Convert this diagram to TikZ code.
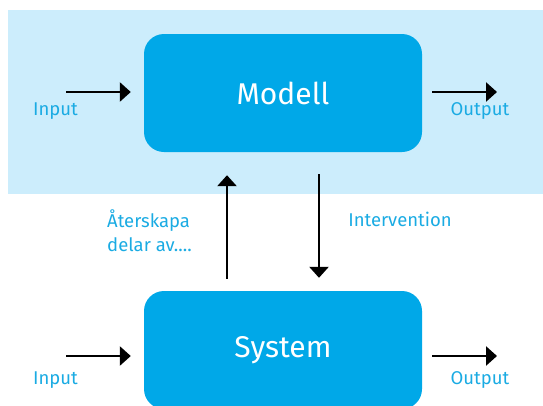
\documentclass[tikz,border=0pt]{standalone}
\usepackage{fontspec}
\setmainfont{Fira Sans}
\usetikzlibrary{arrows.meta}
\definecolor{bandblue}{HTML}{CCEDFC}
\definecolor{boxblue}{HTML}{00A8E8}
\definecolor{txtblue}{HTML}{1AABE3}
\tikzset{
  blockbox/.style={fill=boxblue, rounded corners=20pt, minimum width=278pt, minimum height=118pt, inner sep=0pt, text=white, font=\fontsize{30}{36}\selectfont},
  arr/.style={line width=2.6pt, -{Triangle[length=11pt,width=19pt]}},
  lbl/.style={text=txtblue, font=\fontsize{18.5}{24}\selectfont, inner sep=0pt}
}
\begin{document}
\begin{tikzpicture}[x=1pt,y=-1pt]
\useasboundingbox (0,0) rectangle (543,405);
\clip (0,0) rectangle (543,405);
\fill[bandblue] (8,10) rectangle (543,194);
\node[blockbox] (M) at (283,93) {Modell};
\node[blockbox] (S) at (283,350) {System};
% top input/output
\coordinate (inA) at (66,92);
\coordinate (outA) at (497,92);
\draw[arr, shorten >=13pt] (inA) -- (inA -| M.west);
\draw[arr, shorten <=10pt] (outA -| M.east) -- (outA);
\node[lbl] (inAl) at (55.5,111) {Input};
\node[lbl] (outAl) at (480,111) {Output};
% bottom input/output
\coordinate (inB) at (66,356);
\coordinate (outB) at (497,356);
\draw[arr, shorten >=13pt] (inB) -- (inB -| S.west);
\draw[arr, shorten <=10pt] (outB -| S.east) -- (outB);
\node[lbl] (inBl) at (55.5,380) {Input};
\node[lbl] (outBl) at (480,380) {Output};
% vertical arrows
\coordinate (upx) at (227,0);
\coordinate (dnx) at (319,0);
\draw[arr, shorten <=12pt, shorten >=23pt] (upx |- S.north) -- (upx |- M.south);
\draw[arr, shorten <=22pt, shorten >=13pt] (dnx |- M.south) -- (dnx |- S.north);
\node[lbl, anchor=west, align=left] (re) at (107,231) {Återskapa\\delar av....};
\node[lbl] (iv) at (400,219) {Intervention};
\end{tikzpicture}
\end{document}
